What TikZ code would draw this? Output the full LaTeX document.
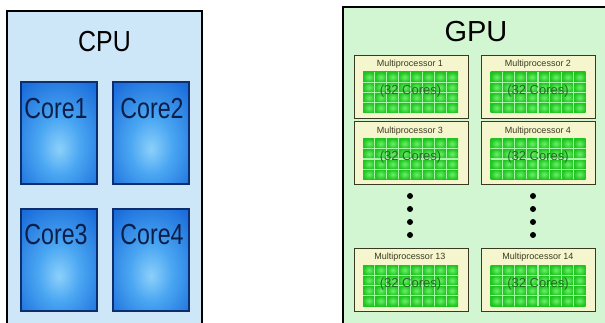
\documentclass[tikz,border=0pt]{standalone}
\usepackage{fontspec}
\setmainfont{Liberation Sans}
\definecolor{cpubg}{HTML}{CDE6F8}
\definecolor{gpubg}{HTML}{D2F5D2}
\definecolor{corelt}{HTML}{8CD0FA}
\definecolor{coremid}{HTML}{4AA6F2}
\definecolor{coredk}{HTML}{1A6CDA}
\definecolor{coreedge}{HTML}{0C2E6E}
\definecolor{coretext}{HTML}{0A1E4A}
\definecolor{mpfill}{HTML}{F6F6CE}
\definecolor{mpedge}{HTML}{3A3A22}
\definecolor{cellin}{HTML}{6CF06C}
\definecolor{cellout}{HTML}{1EC41E}
\definecolor{gridline}{HTML}{A6F2A6}
\definecolor{corestxt}{HTML}{2A6A2A}
\pgfdeclareradialshading{coreshade}{\pgfpoint{0bp}{-8bp}}{color(0bp)=(corelt); color(14bp)=(coremid); color(36bp)=(coredk); color(70bp)=(coredk)}
\tikzset{
  bigbox/.style={draw=black, line width=1.5pt, rectangle, inner sep=0},
  corebox/.style={draw=coreedge, line width=1.3pt, rectangle, inner sep=0,
    minimum width=76pt, minimum height=102pt, shading=coreshade},
  coretxt/.style={text=coretext, font=\fontsize{29}{29}\selectfont, inner sep=0},
  mpbox/.style={draw=mpedge, line width=1pt, fill=mpfill, rectangle, inner sep=0,
    minimum width=114pt, minimum height=63pt},
  mptxt/.style={text=mpedge, font=\fontsize{9}{9}\selectfont, inner sep=0},
  corestx/.style={text=corestxt, font=\fontsize{13}{13}\selectfont, inner sep=0},
  dotn/.style={circle, fill=black, inner sep=0, minimum size=6pt},
  title/.style={text=black, font=\fontsize{29}{29}\selectfont, inner sep=0}
}
% grid of 8x4 cells, origin = top-left corner (x,y)
\newcommand{\mpgrid}[2]{%
  \foreach \i in {0,...,7}{\foreach \j in {0,...,3}{%
    \shade[inner color=cellin, outer color=cellout]
      ({#1+\i*11.875},{#2+\j*10.25}) rectangle ++(11.875,10.25);}}
  \draw[gridline, line width=1.1pt, step=1pt]
    \foreach \i in {1,...,7}{({#1+\i*11.875},#2) -- ++(0,41)}
    \foreach \j in {1,...,3}{(#1,{#2+\j*10.25}) -- ++(95,0)};
}
\begin{document}
\begin{tikzpicture}[x=1pt,y=-1pt]
\useasboundingbox (0,0) rectangle (605,323);
\clip (0,0) rectangle (605,323);
\fill[white] (0,0) rectangle (605,323);
% CPU
\node[bigbox, fill=cpubg, minimum width=195pt, minimum height=330pt] (cpu) at (104.5,176) {};
\node[title] (cputitle) at (104.5,42) {\scalebox{0.86}[1]{CPU}};
\node[corebox] (c1) at (59,133) {};
\node[corebox] (c2) at (151,133) {};
\node[corebox] (c3) at (59,260) {};
\node[corebox] (c4) at (151,260) {};
\node[coretxt] (c1t) at (56,109) {\scalebox{0.8}[1]{Core1}};
\node[coretxt] (c2t) at (152,109) {\scalebox{0.8}[1]{Core2}};
\node[coretxt] (c3t) at (56,235) {\scalebox{0.8}[1]{Core3}};
\node[coretxt] (c4t) at (152,235) {\scalebox{0.8}[1]{Core4}};
% GPU
\node[bigbox, fill=gpubg, minimum width=280pt, minimum height=340pt] (gpu) at (483,177) {};
\node[title] (gputitle) at (476,32) {GPU};
% multiprocessors
\node[mpbox] (mp1) at (411,87) {};
\node[mpbox] (mp2) at (538.5,87) {};
\node[mpbox] (mp3) at (411,153.5) {};
\node[mpbox] (mp4) at (538.5,153.5) {};
\node[mpbox] (mp13) at (411,280) {};
\node[mpbox] (mp14) at (538.5,280) {};
\mpgrid{363}{72}
\mpgrid{490.5}{72}
\mpgrid{363}{138.5}
\mpgrid{490.5}{138.5}
\mpgrid{363}{265}
\mpgrid{490.5}{265}
\node[mptxt] (mp1t) at (410,64.5) {Multiprocessor 1};
\node[mptxt] (mp2t) at (538,64.5) {Multiprocessor 2};
\node[mptxt] (mp3t) at (410,131) {Multiprocessor 3};
\node[mptxt] (mp4t) at (538,131) {Multiprocessor 4};
\node[mptxt] (mp13t) at (410,257.5) {Multiprocessor 13};
\node[mptxt] (mp14t) at (538,257.5) {Multiprocessor 14};
\node[corestx] (mp1c) at (410.5,91) {(32 Cores)};
\node[corestx] (mp2c) at (538,91) {(32 Cores)};
\node[corestx] (mp3c) at (410.5,157.5) {(32 Cores)};
\node[corestx] (mp4c) at (538,157.5) {(32 Cores)};
\node[corestx] (mp13c) at (410.5,284) {(32 Cores)};
\node[corestx] (mp14c) at (538,284) {(32 Cores)};
% dots
\foreach \k/\yy in {1/196,2/209,3/222,4/235}{
  \node[dotn] (dl\k) at (410,\yy) {};
  \node[dotn] (dr\k) at (533,\yy) {};
}
\end{tikzpicture}
\end{document}
